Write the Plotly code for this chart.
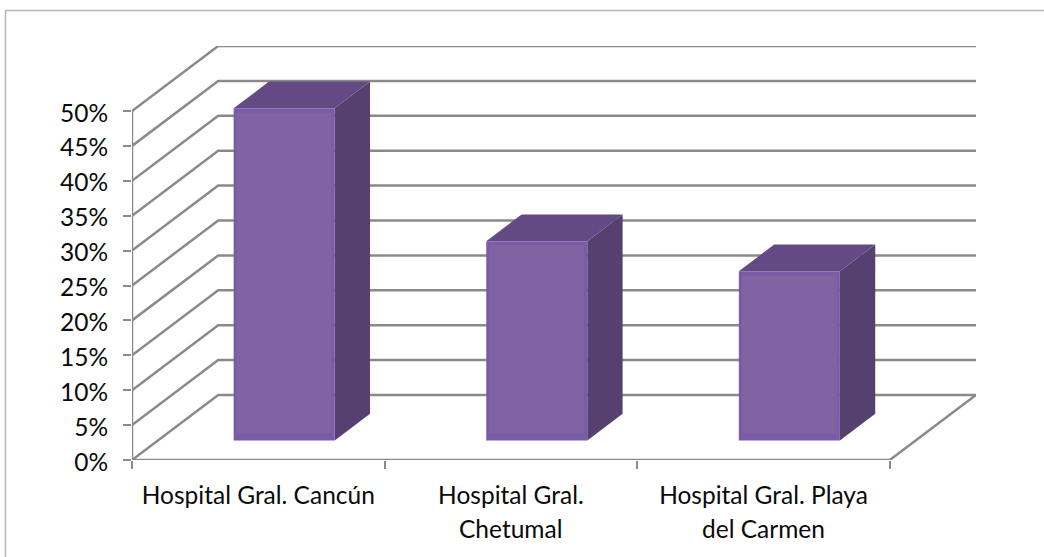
import plotly.graph_objects as go

categories_line1 = ["Hospital Gral. Cancún", "Hospital Gral.", "Hospital Gral. Playa"]
categories_line2 = ["", "Chetumal", "del Carmen"]
values = [47.6, 28.55, 24.25]
y_ticks = [0, 5, 10, 15, 20, 25, 30, 35, 40, 45, 50]
y_labels = [f"{v}%" for v in y_ticks]

# Oblique projection of the depth axis, in axis units
DEPTH_X = 86 / 252
DEPTH_Y = 65 / 6.98
BAR_WIDTH = 0.40
D_FRONT, D_BACK = 0.30, 0.71

GRID = "#8a8a8a"
FRONT_EDGE = "#7a5ba6"
FRONT = "#7f63a3"
TOP = "#644a84"
SIDE = "#55406f"
TEXT = "#0a0a0a"
FONT = "Lato"
FONT_SIZE = 24.5


def proj(x, y, d):
    return x + d * DEPTH_X, y + d * DEPTH_Y


def poly(points, color, name):
    xs = [p[0] for p in points] + [points[0][0]]
    ys = [p[1] for p in points] + [points[0][1]]
    return go.Scatter(x=xs, y=ys, mode="lines", fill="toself", fillcolor=color,
                      line=dict(width=0, color=color), hoverinfo="skip",
                      showlegend=False, name=name, cliponaxis=False)


fig = go.Figure()

# walls
for v in y_ticks:
    bx, by = proj(0, v, 1)
    fig.add_trace(go.Scatter(x=[0, bx, 3 + DEPTH_X], y=[v, by, by], mode="lines",
                             line=dict(color=GRID, width=2.5), hoverinfo="skip",
                             showlegend=False, cliponaxis=False))
# floor right edge, axes
fig.add_trace(go.Scatter(x=[3, 3 + DEPTH_X], y=[0, DEPTH_Y], mode="lines",
                         line=dict(color=GRID, width=2.5), hoverinfo="skip",
                         showlegend=False, cliponaxis=False))
fig.add_trace(go.Scatter(x=[0, 0], y=[0, 50], mode="lines",
                         line=dict(color=GRID, width=2.5), hoverinfo="skip",
                         showlegend=False, cliponaxis=False))
fig.add_trace(go.Scatter(x=[0, 3], y=[0, 0], mode="lines",
                         line=dict(color=GRID, width=2.5), hoverinfo="skip",
                         showlegend=False, cliponaxis=False))

# bars
for i, v in enumerate(values):
    x0 = i + 0.5 - BAR_WIDTH / 2
    x1 = i + 0.5 + BAR_WIDTH / 2
    fl = proj(x0, 0, D_FRONT)
    fr = proj(x1, 0, D_FRONT)
    ftl = proj(x0, v, D_FRONT)
    ftr = proj(x1, v, D_FRONT)
    br = proj(x1, 0, D_BACK)
    btl = proj(x0, v, D_BACK)
    btr = proj(x1, v, D_BACK)
    fig.add_trace(poly([fr, br, btr, ftr], SIDE, "side"))
    fig.add_trace(poly([ftl, ftr, btr, btl], TOP, "top"))
    fig.add_trace(poly([fl, fr, ftr, ftl], FRONT_EDGE, "front"))
    # softly lit inner panel of the front face
    m = 0.012
    fig.add_trace(poly([(fl[0] + m, fl[1] + 1), (fr[0] - m, fr[1] + 1),
                        (ftr[0] - m, ftr[1] - 0.6), (ftl[0] + m, ftl[1] - 0.6)],
                       FRONT, "front inner"))

# second lines of the category labels
for i, t in enumerate(categories_line2):
    if t:
        fig.add_annotation(x=i + 0.5, y=0, xref="x", yref="y", text=t, showarrow=False,
                           yanchor="middle", xanchor="center", yshift=-68,
                           font=dict(family=FONT, size=FONT_SIZE, color=TEXT))

# chart frame
W, H = 844, 414
fig.add_shape(type="path", xref="paper", yref="paper",
              path=f"M {(5.5-132)/W} {(460-557.5)/H} L {(5.5-132)/W} {(460-10.5)/H} L {(1044.5-132)/W} {(460-10.5)/H}",
              line=dict(color="#b9b9b9", width=1.5), layer="below")

fig.update_layout(
    width=1044, height=557, autosize=False,
    margin=dict(l=132, r=68, t=46, b=97, pad=0),
    paper_bgcolor="white", plot_bgcolor="rgba(0,0,0,0)",
    showlegend=False,
    xaxis=dict(range=[0, 3 + DEPTH_X], tickmode="array", tickvals=[0.5, 1.5, 2.5],
               ticktext=categories_line1, ticks="", showgrid=False, zeroline=False,
               showline=False, ticklabelstandoff=18, tickangle=0,
               tickfont=dict(family=FONT, size=FONT_SIZE, color=TEXT),
               minor=dict(tickmode="array", tickvals=[0, 1, 2, 3], ticks="outside",
                          ticklen=8, tickwidth=2, tickcolor=GRID, showgrid=False)),
    yaxis=dict(range=[0, 50 + DEPTH_Y], tickmode="array", tickvals=y_ticks, ticktext=y_labels,
               ticks="outside", ticklen=8, tickwidth=2, tickcolor=GRID, showgrid=False,
               zeroline=False, showline=False, ticklabelstandoff=10, ticklabelshift=2,
               tickfont=dict(family=FONT, size=FONT_SIZE, color=TEXT)),
)

fig.write_html("out.html", config={"displayModeBar": False},
               post_script="document.body.style.margin='0';")
